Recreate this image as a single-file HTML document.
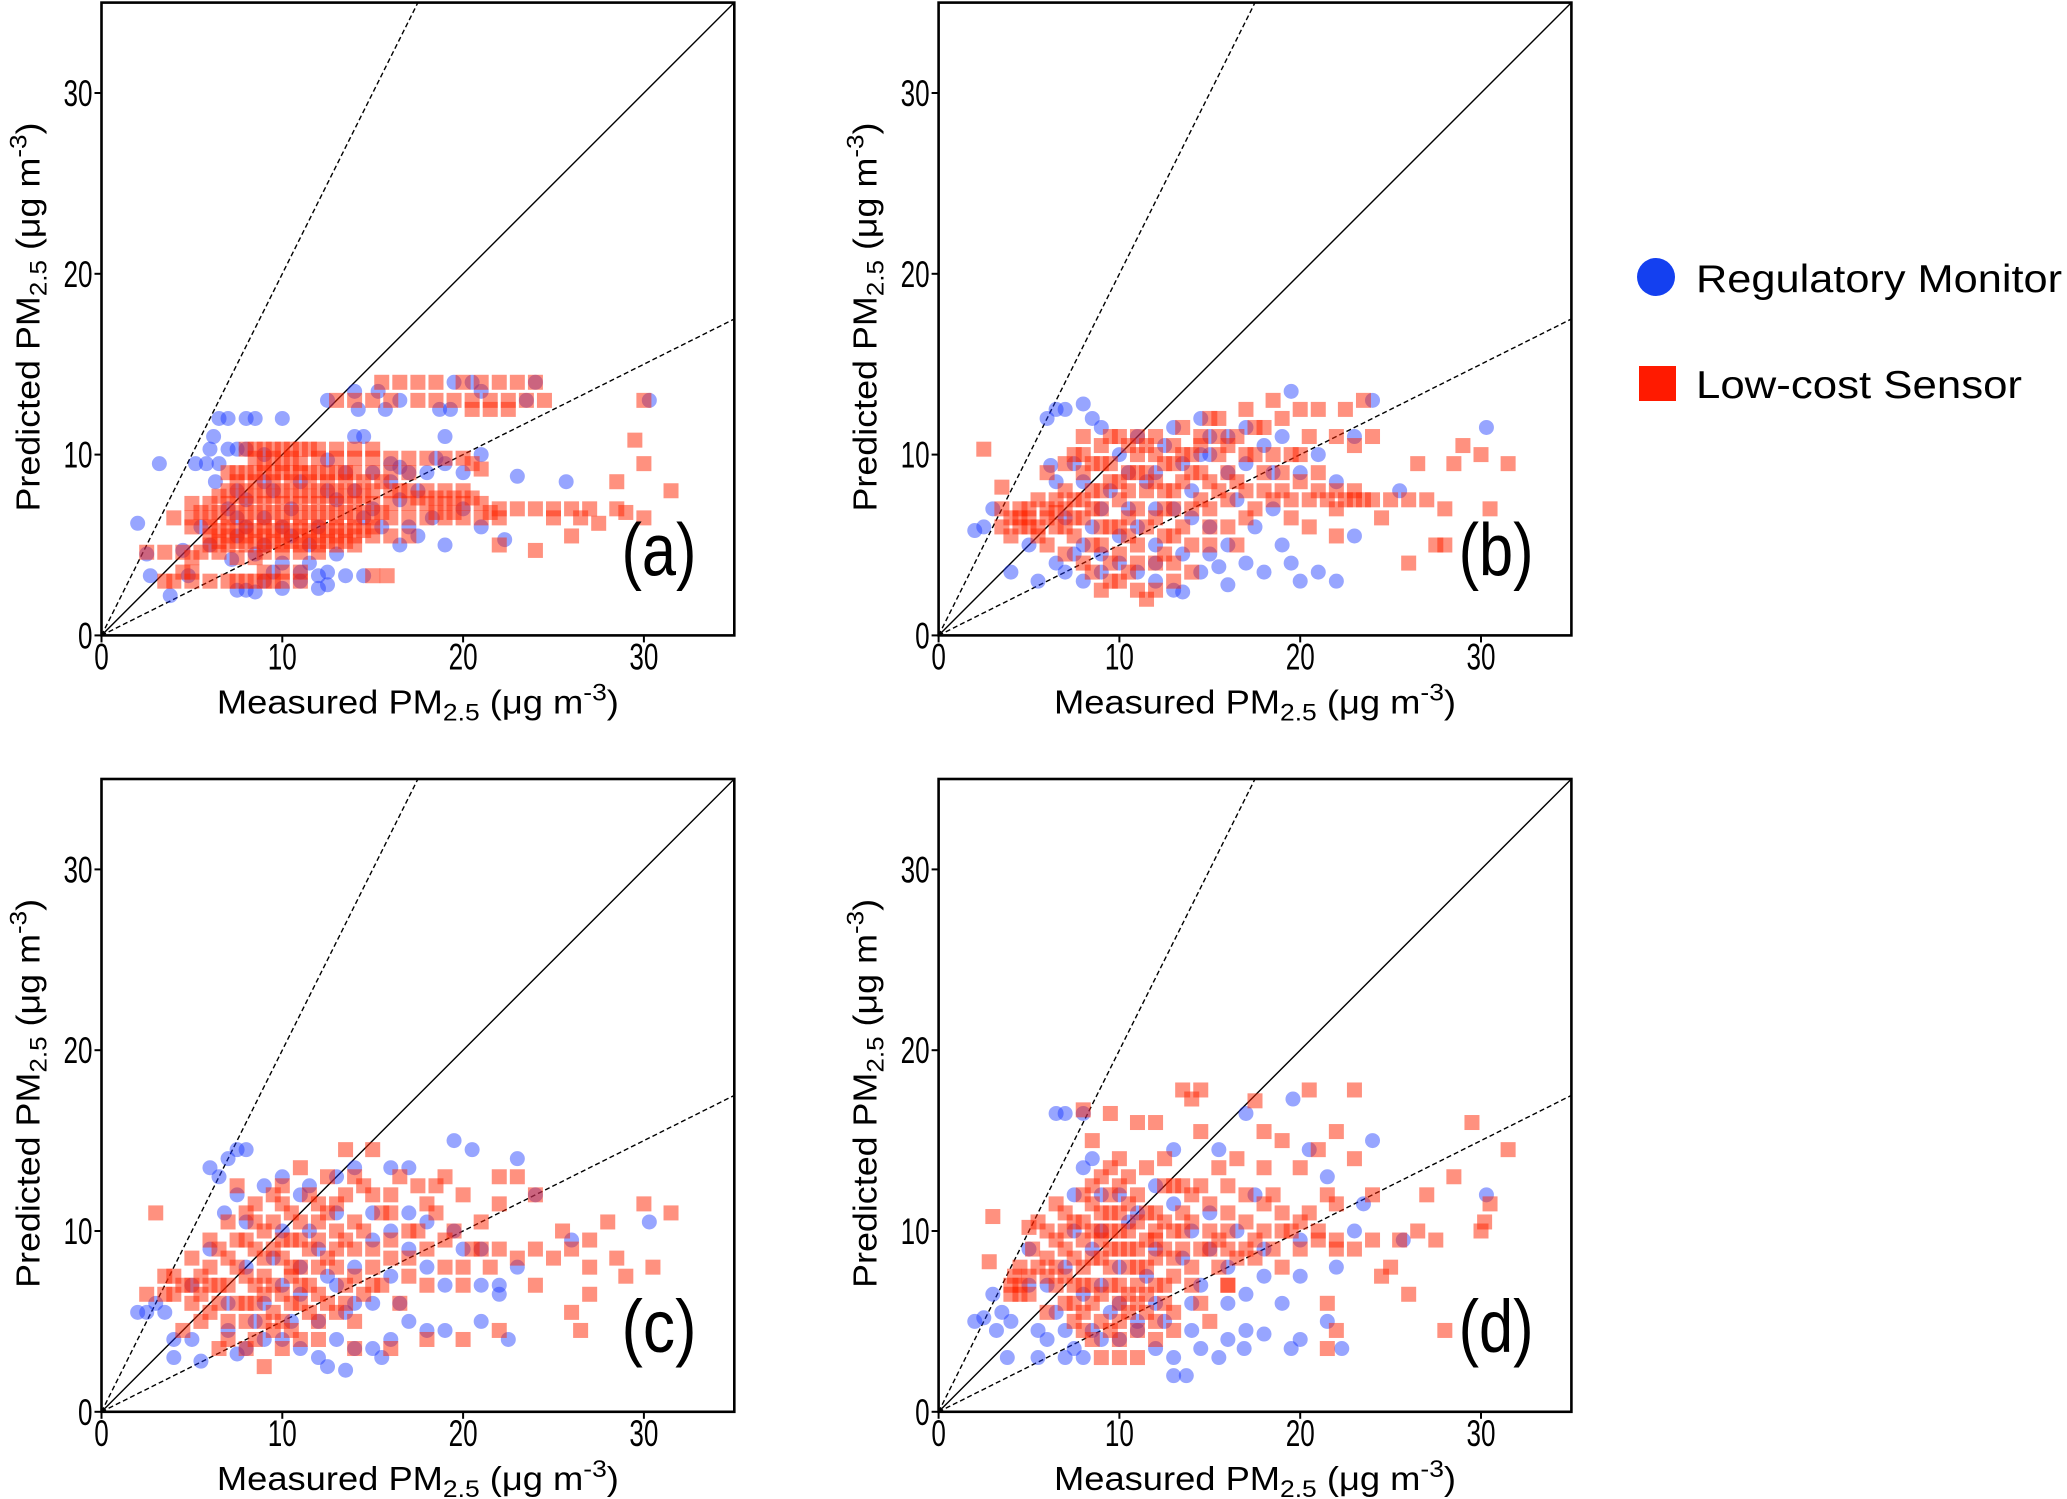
<!DOCTYPE html>
<html><head><meta charset="utf-8">
<style>
html,body{margin:0;padding:0;background:#fff;}
svg{display:block;font-family:"Liberation Sans",Arial,sans-serif;}
</style></head>
<body>
<svg id="fig" width="2067" height="1499" viewBox="0 0 2067 1499" xmlns="http://www.w3.org/2000/svg">
<g>
  <circle cx="1656" cy="277" r="19" fill="#1440f0"/>
  <text x="1696" y="292" font-size="39" fill="#000" textLength="366" lengthAdjust="spacingAndGlyphs">Regulatory Monitor</text>
  <rect x="1639" y="366" width="37" height="35" fill="#ff1a00"/>
  <text x="1696" y="398" font-size="39" fill="#000" textLength="326" lengthAdjust="spacingAndGlyphs">Low-cost Sensor</text>
</g>
</svg>
<script>
const tickValues=[0,10,20,30];
const panelLabels=["(a)","(b)","(c)","(d)"];
const blueA=[[2,6.2],[2.5,4.5],[2.7,3.3],[3.2,9.5],[3.8,2.2],[4.5,4.7],[4.8,3.3],[5.2,9.5],[5.8,9.5],[6,10.3],[6.2,11],[6.5,12],[7,12],[7.5,10.3],[8,12],[8.5,12],[9,10],[10,12],[6.3,8.5],[7,7],[8,6],[9,5],[10,4],[11,3.5],[12,3.3],[12.5,2.8],[7.5,2.5],[8,2.5],[9,3],[10,2.6],[11,3],[13.5,3.3],[14.5,3.3],[12.5,13],[14,13.5],[14.2,12.5],[15.3,13.5],[15.7,12.5],[16.5,13],[19.5,14],[20.5,14],[21,13.5],[23.5,13],[24,14],[19,11],[18.7,12.5],[16,9.5],[17,9],[18,9],[19,9.5],[20,7],[21,6],[22.3,5.3],[19,5],[17.5,5.5],[16.5,5],[18.3,6.5],[23,8.8],[25.7,8.5],[30.3,13],[14,11],[12.5,9.7],[11,8.5],[13,7.5],[14,8],[15,7],[16,8.5],[9,6.5],[10.5,5.5],[12,6],[8.5,4.5],[15.5,6],[13,4.5],[11.5,5],[7.5,8],[5.5,6],[6,5],[7.2,4.2],[8.5,2.4],[12,2.6],[6.5,9.5],[7,10.3],[8,10.3],[9.5,8],[10.5,7],[12.5,8],[13.5,9],[14.5,6.5],[16.5,7.5],[17.5,8],[10,6],[8,7.5],[7.5,5.5],[11.5,4],[9.5,3.5],[12.5,3.5],[14.5,11],[15,9],[17,6],[20,9],[21,10],[18.5,9.8],[19.3,12.5],[16.5,9.3],[7.5,6.5],[9,8.5]];
const redA=[[15.5,14],[16.5,14],[17.5,14],[18.5,14],[20,14],[21,14],[22,14],[23,14],[24,14],[13,13],[14,13],[15,13],[16,13],[17.5,13],[18.5,13],[19.5,13],[20.5,13],[21.5,13],[22.5,13],[23.5,13],[24.5,13],[20.5,12.5],[21.5,12.5],[22.5,12.5],[8,10.3],[9,10.3],[10,10.3],[11,10.3],[12,10.3],[13,10.3],[14,10.3],[15,10.3],[8.5,9.8],[9.5,9.8],[10.5,9.8],[12,9.8],[13,9.8],[14,9.8],[15,9.8],[16,9.8],[17,9.8],[18,9.8],[19,9.8],[20,9.8],[7,9],[8,9],[9,9],[10,9],[11,9],[12,9],[13,9],[14,9],[15,9],[16,9],[17,9],[7,8],[8,8],[9,8],[10,8],[11,8],[12,8],[13,8],[14,8],[15,8],[16,8],[17,8],[18,8],[19,8],[20,8],[5,7.3],[6,7.3],[7,7.3],[8,7.3],[9,7.3],[10,7.3],[11,7.3],[12,7.3],[13,7.3],[14,7.3],[15,7.3],[16,7.3],[17,7.3],[18,7.3],[19,7.3],[20,7.3],[21,7.3],[22,7],[23,7],[24,7],[25,7],[26,7],[27,7],[4,6.5],[5,6.5],[6,6.5],[7,6.5],[8,6.5],[9,6.5],[10,6.5],[11,6.5],[12,6.5],[13,6.5],[14,6.5],[15,6.5],[16,6.5],[17,6.5],[18,6.5],[19,6.5],[20,6.5],[21,6.5],[22,6.5],[5,6],[6,6],[7,6],[8,6],[9,6],[10,6],[11,6],[12,6],[13,6],[14,6],[15,6],[6,5.5],[7,5.5],[8,5.5],[9,5.5],[10,5.5],[11,5.5],[12,5.5],[13,5.5],[14,5.5],[15,5.5],[16,5.5],[17,5.5],[6,5],[7,5],[8,5],[9,5],[10,5],[11,5],[12,5],[13,5],[14,5],[2.5,4.6],[3.5,4.6],[4.5,4.6],[5.5,4.6],[6.5,4.6],[9,4.6],[10,4.6],[11,4.6],[12,4.6],[4.5,3.5],[5,3.5],[9,3.5],[10,3.5],[11,3.5],[15,3.3],[15.8,3.3],[4,3],[5,3],[6,3],[7,3],[8,3],[9,3],[10,3],[11,3],[29.5,10.8],[30,9.5],[31.5,8],[28.5,8.5],[30,6.5],[29,6.8],[26,5.5],[24,4.7],[22,5],[30,13],[27.5,6.2],[28.5,7],[25,6.5],[26.5,6.5],
[7.5,8.5],[8.5,8.5],[9.5,8.5],[10.5,8.5],[11.5,8.5],[12.5,8.5],[13.5,8.5],[14.5,8.5],[15.5,8.5],[6.5,7.7],[7.5,7.7],[8.5,7.7],[9.5,7.7],[10.5,7.7],[11.5,7.7],[12.5,7.7],[13.5,7.7],[14.5,7.7],[5.5,6.8],[6.5,6.8],[7.5,6.8],[8.5,6.8],[9.5,6.8],[10.5,6.8],[11.5,6.8],[12.5,6.8],[13.5,6.8],[14.5,6.8],[15.5,6.8],[6.5,5.8],[7.5,5.8],[8.5,5.8],[9.5,5.8],[10.5,5.8],[11.5,5.8],[12.5,5.8],[13.5,5.8],[14.5,5.8],[6.5,5.2],[7.5,5.2],[8.5,5.2],[9.5,5.2],[10.5,5.2],[11.5,5.2],[12.5,5.2],[13.5,5.2],[7.5,4.3],[8.5,4.3],[5,4.3],[3.5,3],[7.5,3],[8.5,3],[9.5,3],[8.5,10.3],[9.5,10.3],[10.5,10.3],[11.5,10.3],[9,9.5],[10,9.5],[11,9.5],[7.5,9],[8.5,9],[9.5,9],[10.5,9],[11.5,9],[12.5,9],[13.5,9],[16.5,8],[17.5,7.6],[18.5,7.6],[19.5,7.6],[20.5,7.6],[18.5,6.8],[19.5,6.8],[21.5,6.8],[20.5,9.5],[21,9.2]];
const blueB=[[2,5.8],[2.5,6],[3,7],[4,3.5],[5,5],[6,12],[6.5,12.5],[6.2,9.4],[7,12.5],[8,12.8],[8.5,12],[9,11.5],[5.5,3],[6.5,4],[7,3.5],[8,3],[9,3.5],[10,4],[11,3.5],[12,3],[13,2.5],[13.5,2.4],[14.5,3.5],[15.5,3.8],[16,2.8],[17,4],[19,5],[19.5,4],[20,3],[21,3.5],[22,3],[23,5.5],[19.5,13.5],[24,13],[30.3,11.5],[25.5,8],[20,9],[21,10],[23,11],[22,8.5],[18,10.5],[17,11.5],[16,9],[15,10],[14,8],[13,7],[12,9],[11,6],[10,5.5],[9,7],[8,8.5],[7,6.5],[6.5,8.5],[11,11],[13,11.5],[14.5,12],[15,6],[16,5],[17.5,6],[18.5,7],[12,5],[8,5],[7.5,9.5],[10,10],[12.5,10.5],[15,11],[9.5,8],[10.5,7],[11.5,8.5],[13.5,9.5],[14,6.5],[16.5,7.5],[17,9.5],[8.5,6],[9,4.5],[12,4],[13.5,4.5],[15,4.5],[18,3.5],[7.5,4.5],[10.5,9],[12,7],[14.5,10],[16,11],[18.5,9],[19,11]];
const redB=[[2.5,10.3],[3.5,8.2],[4,5.5],[4.5,6.5],[5,7],[5.5,6],[5,6.5],[4.5,7],[6,6.5],[6,5],[7,4.5],[7,7],[7,8],[7.5,10],[8,11],[8,9],[8.5,7],[8.5,5],[9,10.5],[9,6],[9.5,8.5],[9.5,4],[10,11],[10,7.5],[10,3],[10.5,9],[10.5,5.5],[11,10],[11,7],[11,4],[11.5,8],[11.5,2],[12,11],[12,6.5],[12.5,9.5],[12.5,4.5],[13,10.5],[13,8],[13,5.5],[13.5,11.5],[14,9],[14,7],[14,3.5],[14.5,10.5],[15,8.5],[15,6],[15.5,12],[15.5,10],[16,9],[16,7.5],[16.5,11],[16.5,5],[17,12.5],[17,8],[17.5,10],[18,11.5],[18,9],[18.5,7.5],[19,12],[19,8],[19.5,10],[20,12.5],[20,8.5],[20.5,11],[21,12.5],[21,8],[21.5,7.5],[22,11],[22,7],[22.5,12.5],[23,10.5],[23,7.5],[24,11],[24,7.5],[25,7.5],[26,7.5],[27,7.5],[28,7],[28.5,9.5],[29,10.5],[30,10],[30.5,7],[31.5,9.5],[26.5,9.5],[27.5,5],[28,5],[26,4],[22,5.5],[23.5,13],[18.5,13],[8.5,3.5],[9,2.5],[12,2.5],[10.5,10.5],[9,9.5],[8,6.5],[7.5,5.5],[6.5,7.5],[5.5,7.5],[12,8.5],[14.5,11],[15,12],[13.5,6],[16,10.5],[17,6.5],[19.5,6.5],[20.5,6],[24.5,6.5],[9.5,11],[11,9],[12.5,7],[8,10],[10,6],[13,9.5],[7.5,6.5],[9,8],[11.5,10.5],[6.5,6],[5,6],[4.5,6],
[3.5,6],[3.5,7],[4,6.5],[5.5,5.5],[6,7],[6.5,6.8],[7,6],[7.5,7.5],[8,7.5],[8.5,8],[8.5,9.5],[9,5],[9,7],[9.5,6],[9.5,9.5],[10,8.5],[10,4.5],[10.5,6.5],[10.5,8],[11,5],[11,11],[11.5,6],[11.5,9],[12,4],[12,10],[12.5,8],[12.5,5.5],[13,7],[13,4],[13.5,8.5],[13.5,10],[14,5],[14,10],[14.5,7.5],[14.5,9],[15,5],[15,7],[15.5,8],[15.5,11],[16,6],[16.5,8.5],[17,10],[17.5,7],[17.5,11.5],[18,8],[18.5,10],[19,9],[19.5,7.5],[20,10],[21,9],[20.5,7.5],[22,8],[22.5,7.5],[23,8],[23.5,7.5],[7,9.5],[6,9],[8,4],[9.5,3],[10.5,3.5],[13,3],[11,2.5]];
const blueC=[[2,5.5],[2.5,5.5],[3,6],[3.5,5.5],[4,4],[4,3],[5,4],[5.5,2.8],[6,13.5],[6.5,13],[7,14],[7.5,14.5],[8,14.5],[6.8,11],[7.5,12],[8,10.5],[9,12.5],[10,13],[11,12],[11.5,12.5],[13,13],[14,13.5],[16,13.5],[17,13.5],[19.5,15],[20.5,14.5],[23,14],[24,12],[26,9.5],[30.3,10.5],[20,9],[21,7],[22,7],[23,8],[21,5],[22.5,4],[19,4.5],[18,4.5],[17,5],[16,4],[15.5,3],[15,3.5],[14,3.5],[13,4],[12.5,2.5],[13.5,2.3],[12,3],[11,3.5],[10,4],[9,4],[8,3.5],[7.5,3.2],[9,6],[10,7],[11,8],[12,9],[13,7],[14,8],[15,9.5],[16,10],[17,11],[18,8],[15,6],[12,5],[7,6],[8,8],[10,10],[13,11],[19,7],[6,9],[5,7],[9.5,8.5],[11,6.5],[12.5,7.5],[14,6],[16,7.5],[17,9],[8.5,5],[10.5,5],[13.5,5.5],[15,11],[18,10.5],[19.5,10],[21,9],[22,6.5],[7,4.5],[11.5,10],[16.5,6]];
const redC=[[2.5,6.5],[3,11],[3.5,7.5],[4,6.5],[4.5,7],[5,8.5],[5,6],[5.5,7.5],[6,5.5],[6,9.5],[6.5,7],[7,10.5],[7,5],[7.5,8],[7.5,12.5],[8,6],[8,9.5],[8.5,11.5],[8.5,4],[9,7.5],[9,10],[9,2.5],[9.5,5.5],[9.5,12],[10,8.5],[10,6.5],[10.5,11],[10.5,4.5],[11,9.5],[11,7],[11.5,12],[11.5,5.5],[12,10.5],[12,8],[12.5,13],[12.5,6],[13,9],[13,11.5],[13.5,14.5],[13.5,7],[14,10.5],[14,5],[14.5,12.5],[15,9],[15,7],[15.5,11],[16,8.5],[16,12],[16.5,6],[17,10],[17,7.5],[17.5,12.5],[18,9],[18.5,11],[19,8],[19,13],[19.5,10],[20,7],[20,12],[20.5,9],[21,10.5],[21.5,8],[22,11.5],[22,9],[23,13],[23,8.5],[24,12],[24,9],[25,8.5],[25.5,10],[26,9],[27,9.5],[27,8],[28,10.5],[28.5,8.5],[29,7.5],[30,11.5],[30.5,8],[31.5,11],[27,6.5],[26.5,4.5],[26,5.5],[24,7],[22,4.5],[20,4],[18,4],[16,3.5],[14,3.5],[12,4],[10,3.5],[8,3.5],[6.5,3.5],[4.5,4.5],[11,13.5],[15,14.5],[22,13],[5.5,5],[8.5,7],[9.5,9],[10.5,8],[11,6],[7,8.5],[6,7],[12,11.5],[13.5,9.5],[9,5],[8,11],[10,11.5],
[3.5,6.5],[4,7.5],[5,7],[5.5,6.5],[6,8],[6.5,6],[6.5,9],[7,7],[7,4],[7.5,6],[7.5,9.5],[8,5],[8,7.5],[8.5,6],[8.5,9],[8.5,10.5],[9,6.5],[9,8.5],[9.5,7],[9.5,4.5],[9.5,10.5],[10,5],[10,9.5],[10,12.5],[10.5,6],[10.5,7.5],[10.5,9.5],[11,4],[11,8],[11,10.5],[11.5,7],[11.5,9],[12,5],[12,6.5],[12,9.5],[12.5,8.5],[12.5,11],[13,5.5],[13,8],[13,10],[13.5,6],[13.5,12],[14,7.5],[14,9],[14.5,6.5],[14.5,10],[15,8],[15,12],[15.5,7],[16,9.5],[16,11],[17,8.5],[17.5,10],[18,7],[18,11.5],[19,9.5],[20,8],[21,9],[18.5,12.5],[16.5,13],[14,13]];
const blueD=[[2,5],[2.5,5.2],[3,6.5],[3.5,5.5],[3.2,4.5],[4,5],[3.8,3],[5,9],[5.5,3],[5.5,4.5],[6,4],[6.5,16.5],[7,16.5],[8,16.5],[7.5,12],[8,13.5],[8.5,14],[9,12],[7,3],[7.5,3.5],[8,3],[9,4],[10,4],[11,4.5],[12,3.5],[13,3],[13,2],[13.7,2],[14.5,3.5],[15.5,3],[16,4],[16.9,3.5],[17,4.5],[18,4.3],[19.5,3.5],[20,4],[21.5,5],[22.3,3.5],[19,6],[17,6.5],[16,6],[14,6],[13,14.5],[15.5,14.5],[17,16.5],[19.6,17.3],[21.5,13],[20.5,14.5],[24,15],[23.5,11.5],[23,10],[25.7,9.5],[30.3,12],[20,9.5],[18,9],[16,8],[14,10],[12,9],[10,8],[9,7],[11,11],[13,11.5],[15,9],[18,7.5],[12,6],[10,6],[8,6.5],[7,8],[6,7],[5,7],[22,8],[20,7.5],[7.5,10],[8.5,9],[9.5,5.5],[10.5,10.5],[11.5,7.5],[12.5,5],[13.5,8.5],[14.5,7],[15,11],[16.5,10],[17.5,12],[12,12.5],[10,12],[8.5,4.5],[6.5,5.5],[11,5],[14,4.5],[7,4.5],[9,10]];
const redD=[[2.8,8.3],[3,10.8],[4,6.5],[4.2,7.5],[4.5,7],[4.5,8],[5,6.5],[5,10.2],[5.5,10.5],[5.2,9],[6,10],[6,7.5],[6.5,8],[6.5,11.5],[7,9],[7,6],[7.5,10.5],[7.5,7],[8,16.7],[8,12],[8,8],[8,4.5],[8.5,15],[8.5,10],[8.5,6],[9,13],[9,11],[9,8.5],[9,3],[9.5,16.5],[9.5,12],[9.5,7],[9.5,4.5],[10,11],[10,9],[10,6],[10,3],[10.5,13],[10.5,10],[10.5,5.5],[11,16],[11,12],[11,8],[11,3],[11.5,13.5],[11.5,9.5],[11.5,6.5],[12,16],[12,11],[12,8.5],[12,5],[12.5,14],[12.5,12.5],[12.5,9],[13,12.5],[13,7.5],[13,4.5],[13.5,17.8],[13.5,10],[14,17.3],[14,12],[14,8],[14.5,17.8],[14.5,15.5],[15,11.5],[15,9],[15,5],[15.5,13.5],[16,12.5],[16,10],[16,7],[16.5,14],[17,12],[17,9],[17.5,17.2],[18,13.5],[18,15.5],[18,10],[18.5,12],[19,15],[19,8],[19.5,10],[20,13.5],[20,9],[20.5,17.8],[20.5,11],[21,14.5],[21,9.5],[21.5,12],[21.5,6],[22,15.5],[22,11.5],[22,9],[23,17.8],[23,14],[23,9],[24,12],[24,9.5],[24.5,7.5],[25,8],[25.5,9.5],[26,6.5],[26.5,10],[27,12],[27.5,9.5],[28,4.5],[28.5,13],[29.5,16],[30,10],[30.5,11.5],[31.5,14.5],[30.2,10.5],[22,4.5],[21.5,3.5],[16,7],[14.5,6],[7.5,5],[6,5.5],[10.5,8],[12.5,7],[9,9.5],[11,10.5],[13.5,11],[15.5,8],[17.5,8.5],[19,11],[8.5,8.5],[7,10],[9.5,10],[10,12.5],[12,10],[11,6],[8,7],[16,11],[18,11.5],
[4,7],[4.5,6.5],[5,7.5],[5.5,8],[6,8.5],[6.5,7],[6.5,9.5],[7,7.5],[7,11],[7.5,8.5],[7.5,6],[8,9.5],[8,10.5],[8,5.5],[8.5,7],[8.5,11.5],[9,6.5],[9,10],[9,5],[9.5,8],[9.5,9],[9.5,11],[10,7],[10,10],[10,5],[10.5,9],[10.5,11.5],[10.5,6.5],[11,7],[11,9],[11,4.5],[11.5,8],[11.5,11],[11.5,5.5],[12,7],[12,9.5],[12.5,10.5],[12.5,6],[13,8.5],[13,10],[13,5.5],[13.5,9],[13.5,12.5],[14,10.5],[14,7],[14.5,9],[14.5,12.5],[15,10],[15.5,9.5],[16,9],[16.5,8.5],[17,10.5],[17.5,9.5],[18.5,9],[19,10],[20,10.5],[21,10],[22,9.5],[8.5,12.5],[9.5,13.5],[10,14],[8.5,4],[10,4],[12,4]];
const blueSeries=[blueA,blueB,blueC,blueD];
const redSeries=[redA,redB,redC,redD];
const panelIds=["a","b","c","d"];

const NS="http://www.w3.org/2000/svg";
const svg=document.getElementById("fig");
const AXMAX=35, SIZE=632.8;
const origins=[[101.5,2.6],[938.6,2.6],[101.5,779],[938.6,779]];
function mk(tag,attrs,parent){const e=document.createElementNS(NS,tag);for(const k in attrs)e.setAttribute(k,attrs[k]);parent.appendChild(e);return e;}

origins.forEach((o,i)=>{
  const L=o[0],T=o[1];
  const sx=v=>L+v/AXMAX*SIZE;
  const sy=v=>T+SIZE-v/AXMAX*SIZE;
  const g=mk("g",{},svg);
  
  
  const cp=mk("clipPath",{id:"clip"+i},g);
  mk("rect",{x:L,y:T,width:SIZE,height:SIZE},cp);
  const ref=mk("g",{"clip-path":"url(#clip"+i+")"},g);
  
  
  const l1=mk("line",{x1:sx(0),y1:sy(0),x2:sx(35),y2:sy(35),stroke:"#000","stroke-width":1.4},ref);
  
  
  const l2=mk("line",{x1:sx(0),y1:sy(0),x2:sx(17.5),y2:sy(35),stroke:"#000","stroke-width":1.4,"stroke-dasharray":"5,3"},ref);
  
  
  const l3=mk("line",{x1:sx(0),y1:sy(0),x2:sx(35),y2:sy(17.5),stroke:"#000","stroke-width":1.4,"stroke-dasharray":"5,3"},ref);
  
  
  const pts=mk("g",{"clip-path":"url(#clip"+i+")"},g);
  
  
  blueSeries[i].forEach(p=>{
    const c=mk("circle",{cx:sx(p[0]),cy:sy(p[1]),r:7.5,fill:"rgb(25,55,255)","fill-opacity":0.45},pts);
    
    
  });
  redSeries[i].forEach(p=>{
    const r=mk("rect",{x:sx(p[0])-7.5,y:sy(p[1])-7.5,width:15,height:15,fill:"rgb(255,35,0)","fill-opacity":0.5},pts);
    
    
  });
  const fr=mk("rect",{x:L,y:T,width:SIZE,height:SIZE,fill:"none",stroke:"#000","stroke-width":2.6},g);
  
  
  tickValues.forEach(v=>{
    const tx=mk("line",{x1:sx(v),y1:T+SIZE,x2:sx(v),y2:T+SIZE+7,stroke:"#000","stroke-width":2},g);
    
    
    const lx=mk("text",{x:sx(v),y:T+SIZE+34,"font-size":37,"text-anchor":"middle",textLength:String(v).length*14.5,lengthAdjust:"spacingAndGlyphs"},g);
    lx.textContent=v;
    
    
    const ty=mk("line",{x1:L-7,y1:sy(v),x2:L,y2:sy(v),stroke:"#000","stroke-width":2},g);
    
    
    const ly=mk("text",{x:L-9,y:sy(v)+13,"font-size":37,"text-anchor":"end",textLength:String(v).length*14.5,lengthAdjust:"spacingAndGlyphs"},g);
    ly.textContent=v;
    
    
  });
  const xt=mk("text",{x:L+SIZE/2,y:T+SIZE+78,"font-size":33,"text-anchor":"middle",textLength:402,lengthAdjust:"spacingAndGlyphs"},g);
  xt.innerHTML='Measured PM<tspan font-size="24" dy="7">2.5</tspan><tspan dy="-7"> (μg m</tspan><tspan font-size="24" dy="-13">-3</tspan><tspan dy="13">)</tspan>';
  
  
  const cy=T+SIZE/2-2;
  const yt=mk("text",{x:0,y:0,"font-size":33,"text-anchor":"middle",textLength:389,lengthAdjust:"spacingAndGlyphs",transform:"translate("+(L-62)+","+cy+") rotate(-90)"},g);
  yt.innerHTML='Predicted PM<tspan font-size="24" dy="7">2.5</tspan><tspan dy="-7"> (μg m</tspan><tspan font-size="24" dy="-13">-3</tspan><tspan dy="13">)</tspan>';
  
  
  const pl=mk("text",{x:L+595,y:T+573,"font-size":74,"text-anchor":"end",textLength:75,lengthAdjust:"spacingAndGlyphs"},g);
  pl.textContent=panelLabels[i];
  
  
});
</script>
</body></html>
